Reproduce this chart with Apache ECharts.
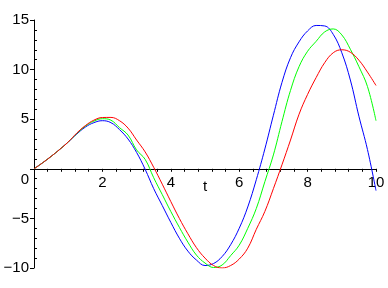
<!DOCTYPE html>
<html>
<head>
<meta charset="utf-8">
<script src="https://cdn.jsdelivr.net/npm/echarts@6/dist/echarts.min.js"></script>
<style>
html,body{margin:0;padding:0;background:#fff;}
#c{width:388px;height:288px;}
</style>
</head>
<body>
<div id="c"></div>
<script>
var tValues = [0,0.25,0.5,0.75,1,1.25,1.5,1.75,2,2.25,2.5,2.75,3,3.25,3.5,3.75,4,4.25,4.5,4.75,5,5.25,5.5,5.75,6,6.25,6.5,6.75,7,7.25,7.5,7.75,8,8.25,8.5,8.75,9,9.25,9.5,9.75,10];
var blueY = [0,0.6,1.25,1.95,2.7,3.5,4.2,4.65,4.85,4.65,3.95,3.0,1.65,-0.05,-2.0,-3.7,-5.4,-7.0,-8.3,-9.2,-9.75,-9.55,-8.85,-7.65,-6.0,-3.85,-1.1,2.0,5.4,8.7,11.2,12.8,13.9,14.45,14.4,13.55,11.7,8.95,5.3,1.95,-2.2];
var greenY = [0,0.6,1.25,1.95,2.7,3.55,4.3,4.8,5.05,4.9,4.15,3.4,1.9,0.95,-0.9,-2.6,-4.3,-5.9,-7.4,-8.7,-9.5,-9.95,-9.7,-8.75,-7.7,-6.0,-4.0,-1.3,1.4,4.75,7.9,10.3,11.85,12.85,13.8,14.1,13.5,12.05,10.3,8.3,4.85];
var redY = [0,0.6,1.25,1.95,2.7,3.6,4.35,4.9,5.17,5.18,4.85,4.1,2.9,1.7,0.15,-1.55,-3.3,-5.0,-6.55,-7.95,-9.0,-9.75,-10.0,-9.75,-9.1,-8.0,-6.1,-4.3,-2.0,0.4,2.9,5.5,7.5,9.2,10.7,11.7,12.0,11.75,10.95,9.75,8.4];
var xTickLabels = ['2','4','6','8','10'];
var yTickLabels = ['\u221210','\u22125','0','5','10','15'];

function pairs(ys){ return tValues.map(function(t,i){ return [t, ys[i]]; }); }

var chart = echarts.init(document.getElementById('c'), null, {renderer:'canvas'});
var font = 'Liberation Sans';
chart.setOption({
  animation:false,
  backgroundColor:'#ffffff',
  grid:{left:34, right:12, top:20, bottom:20, containLabel:false, outerBoundsMode:'none'},
  xAxis:{
    type:'value', min:0, max:10, interval:2,
    position:'bottom', offset:-99.2,
    name:'t', nameLocation:'middle', nameGap:11, nameMoveOverlap:false,
    nameTextStyle:{color:'#000', fontFamily:font, fontSize:15},
    axisLine:{show:true, onZero:false, lineStyle:{color:'#000', width:1}},
    axisTick:{show:true, length:3, lineStyle:{color:'#000'}},
    minorTick:{show:true, splitNumber:5, length:3, lineStyle:{color:'#000'}},
    splitLine:{show:false},
    axisLabel:{color:'#000', fontFamily:font, fontSize:15, margin:7,
      formatter:function(v){ var s=String(v); return xTickLabels.indexOf(s)>=0 ? s : ''; }}
  },
  yAxis:{
    type:'value', min:-10, max:15, interval:5,
    axisLine:{show:true, onZero:false, lineStyle:{color:'#000', width:1}},
    axisTick:{show:true, length:4, lineStyle:{color:'#000'}},
    minorTick:{show:true, splitNumber:5, length:-3, lineStyle:{color:'#000'}},
    splitLine:{show:false},
    axisLabel:{color:'#000', fontFamily:font, fontSize:15, margin:5,
      formatter:function(v){
        var s = v < 0 ? '\u2212' + Math.abs(v) : String(v);
        if (yTickLabels.indexOf(s) < 0) return '';
        return v === 0 ? '{z|0}' : s;
      },
      rich:{z:{fontFamily:font, fontSize:15, color:'#000', padding:[22,0,0,0]}}
    }
  },
  series:[
    {type:'line', data:pairs(blueY), smooth:0.4, showSymbol:false, lineStyle:{color:'#0000ff', width:1}, z:2},
    {type:'line', data:pairs(greenY), smooth:0.4, showSymbol:false, lineStyle:{color:'#00ff00', width:1}, z:3},
    {type:'line', data:pairs(redY), smooth:0.4, showSymbol:false, lineStyle:{color:'#ff0000', width:1}, z:4}
  ]
});
</script>
</body>
</html>
